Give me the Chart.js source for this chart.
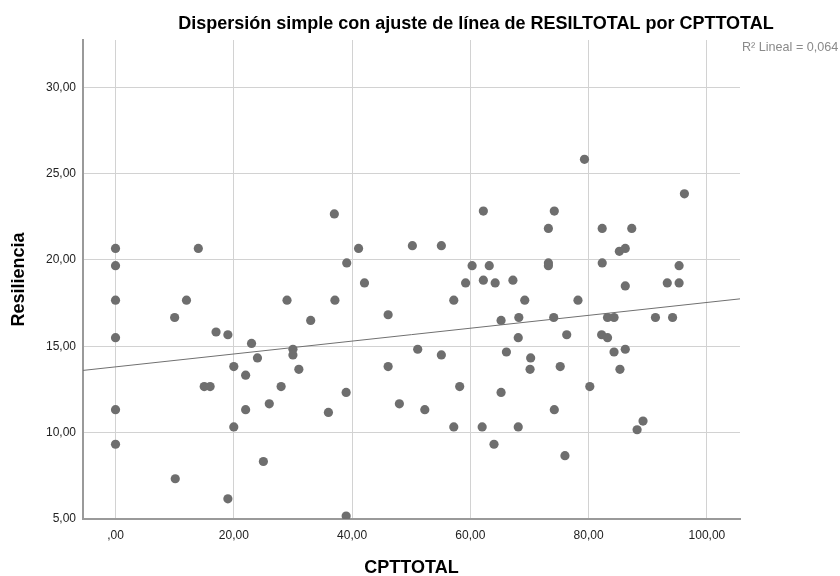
<!DOCTYPE html>
<html>
<head>
<meta charset="utf-8">
<script src="https://cdn.jsdelivr.net/npm/chart.js@4.4.1/dist/chart.umd.min.js"></script>
<style>
  html, body { margin: 0; padding: 0; background: #fff; }
  #wrap { width: 840px; height: 576px; position: relative; }
</style>
</head>
<body>
<div id="wrap"><canvas id="myChart" width="840" height="576"></canvas></div>
<script>
// values (CPTTOTAL, RESILTOTAL)
const cptTotal = [
  0, 0, 0, 0, 0, 0, 10, 10.1, 12, 14,
  15, 16, 17, 19, 19, 20, 20, 22, 22, 23,
  24, 25, 26, 28, 29, 30, 30, 31, 33, 36,
  37, 37.1, 39.1, 39, 39, 41.1, 42.1, 46.1, 46.1, 48,
  50.2, 51.1, 52.3, 55.1, 55.1, 57.2, 57.2, 58.2, 59.2, 60.3,
  62.2, 62.2, 62, 63.2, 64.2, 64, 65.2, 65.2, 66.1, 67.2,
  68.2, 68.1, 68.1, 69.2, 70.2, 70.1, 73.2, 73.2, 73.2, 74.2,
  74.1, 74.2, 75.2, 76.3, 76, 78.2, 79.3, 80.2, 82.3, 82.3,
  82.2, 83.2, 83.2, 84.3, 84.3, 85.2, 85.3, 86.2, 86.2, 86.2,
  87.3, 88.2, 89.2, 91.3, 93.3, 94.2, 95.3, 95.3, 96.2
];
const resilTotal = [
  20.67, 19.67, 17.67, 15.5, 11.33, 9.33, 16.67, 7.33, 17.67, 20.67,
  12.67, 12.67, 15.83, 15.67, 6.17, 13.83, 10.33, 13.33, 11.33, 15.17,
  14.33, 8.33, 11.67, 12.67, 17.67, 14.83, 14.5, 13.67, 16.5, 11.17,
  22.67, 17.67, 19.83, 12.33, 5.17, 20.67, 18.67, 16.83, 13.83, 11.67,
  20.83, 14.83, 11.33, 20.83, 14.5, 17.67, 10.33, 12.67, 18.67, 19.67,
  22.83, 18.83, 10.33, 19.67, 18.67, 9.33, 16.5, 12.33, 14.67, 18.83,
  16.67, 15.5, 10.33, 17.67, 14.33, 13.67, 21.83, 19.83, 19.67, 22.83,
  16.67, 11.33, 13.83, 15.67, 8.67, 17.67, 25.83, 12.67, 21.83, 19.83,
  15.67, 16.67, 15.5, 16.67, 14.67, 20.5, 13.67, 20.67, 18.5, 14.83,
  21.83, 10.17, 10.67, 16.67, 18.67, 16.67, 19.67, 18.67, 23.83
];
const xTickValues = [0, 20, 40, 60, 80, 100];
const yTickValues = [5, 10, 15, 20, 25, 30];
const xRange = [-5.5, 105.6];
const yRange = [5, 32.74];
// fit line
const fitIntercept = 13.81;
const fitSlope = 0.0373;
const chartTitle = 'Dispersión simple con ajuste de línea de RESILTOTAL por CPTTOTAL';
const fitLabel = 'R² Lineal = 0,064';

const points = cptTotal.map((v, i) => ({ x: v, y: resilTotal[i] }));
const fitLine = xRange.map(v => ({ x: v, y: fitIntercept + fitSlope * v }));

// spss style number: 20,00  and ,00 for zero
function fmt(v) {
  let s = v.toFixed(2).replace('.', ',');
  if (s.startsWith('0,')) s = s.slice(1);
  return s;
}

const FONT = '"Liberation Sans", Arial, sans-serif';

const textPlugin = {
  id: 'textPlugin',
  afterDraw(chart) {
    const ctx = chart.ctx;
    ctx.save();
    ctx.fillStyle = '#000';
    ctx.font = 'bold 18px ' + FONT;
    ctx.textAlign = 'center';
    ctx.textBaseline = 'middle';
    ctx.fillText(chartTitle, 476, 24);
    ctx.fillStyle = '#8a8a8a';
    ctx.font = '12.6px ' + FONT;
    ctx.textAlign = 'left';
    ctx.fillText(fitLabel, 742, 48);
    ctx.restore();
  }
};

new Chart(document.getElementById('myChart'), {
  type: 'scatter',
  data: {
    datasets: [
      {
        data: points,
        backgroundColor: '#6e6e6e',
        borderWidth: 0,
        pointRadius: 4.6,
        pointHoverRadius: 4.6
      },
      {
        type: 'line',
        data: fitLine,
        borderColor: '#707070',
        borderWidth: 1,
        pointRadius: 0,
        fill: false
      }
    ]
  },
  options: {
    responsive: false,
    animation: false,
    events: [],
    layout: { padding: { left: 0, right: 100, top: 40, bottom: 0 } },
    plugins: { legend: { display: false }, tooltip: { enabled: false }, title: { display: false } },
    scales: {
      x: {
        type: 'linear',
        min: xRange[0],
        max: xRange[1],
        afterBuildTicks: axis => { axis.ticks = xTickValues.map(v => ({ value: v })); },
        afterFit: scale => { scale.height = 57; },
        grid: { color: '#d2d2d2', drawTicks: false },
        border: { color: '#9a9a9a', width: 2 },
        ticks: {
          padding: 9,
          color: '#222',
          font: { family: FONT, size: 12 },
          callback: v => fmt(v)
        },
        title: {
          display: true,
          text: 'CPTTOTAL',
          color: '#000',
          font: { family: FONT, size: 18, weight: 'bold' },
          padding: { top: 0, bottom: -3 }
        }
      },
      y: {
        type: 'linear',
        min: yRange[0],
        max: yRange[1],
        afterBuildTicks: axis => { axis.ticks = yTickValues.map(v => ({ value: v })); },
        afterFit: scale => { scale.width = 83; },
        grid: { color: '#d2d2d2', drawTicks: false },
        border: { color: '#9a9a9a', width: 2 },
        ticks: {
          padding: 7,
          color: '#222',
          font: { family: FONT, size: 12 },
          callback: v => fmt(v)
        },
        title: {
          display: true,
          text: 'Resiliencia',
          color: '#000',
          font: { family: FONT, size: 18, weight: 'bold' },
          padding: { top: 8, bottom: 0 }
        }
      }
    }
  },
  plugins: [textPlugin]
});
</script>
</body>
</html>
